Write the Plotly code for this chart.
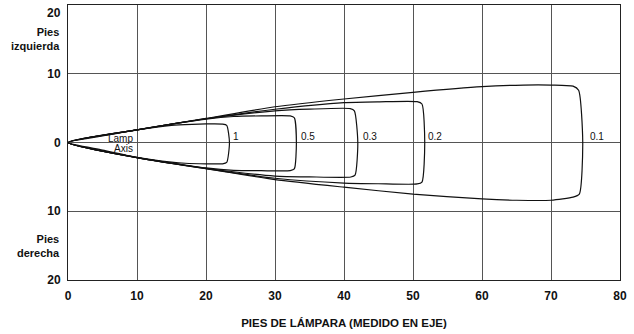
import plotly.graph_objects as go

# Isolux contour outlines (feet along lamp axis, feet left(+)/right(-))
levels = ["1", "0.5", "0.3", "0.2", "0.1"]

c1_x = [0, 5, 10, 15, 18, 20, 22.4, 23.0, 23.4, 23.0, 22.4, 20, 17, 15, 10, 5, 0]
c1_y = [0, 0.95, 1.84, 2.5, 2.65, 2.7, 2.68, 2.5, 0, -2.9, -3.1, -3.1, -3.02, -2.85, -2.15, -1.1, 0]

c05_x = [0, 10, 20, 24, 28, 32.2, 32.8, 33.1, 32.8, 32.2, 28, 24, 20, 10, 0]
c05_y = [0, 1.84, 3.4, 3.78, 3.87, 3.87, 3.6, 0, -3.85, -4.1, -4.1, -4.05, -3.7, -2.2, 0]

c03_x = [0, 10, 20, 30, 35, 40.9, 41.5, 42.0, 41.6, 41.0, 35, 30, 20, 10, 0]
c03_y = [0, 1.84, 3.45, 4.6, 4.85, 4.93, 4.6, 0, -4.75, -5.02, -5.0, -4.88, -3.75, -2.2, 0]

c02_x = [0, 10, 20, 30, 40, 45, 50.6, 51.3, 51.7, 51.3, 50.6, 45, 40, 30, 20, 10, 0]
c02_y = [0, 1.84, 3.45, 4.84, 5.8, 5.92, 5.94, 5.6, 0, -5.75, -6.03, -6.0, -5.9, -5.2, -3.8, -2.2, 0]

c01_x = [0, 10, 20, 30, 40, 50, 60, 66, 70, 73.2, 74.0, 74.6, 74.1, 73.2, 70, 65, 60, 50, 40, 30, 20, 10, 0]
c01_y = [0, 1.84, 3.5, 5.2, 6.33, 7.3, 8.12, 8.36, 8.36, 8.2, 7.6, 0, -7.5, -7.95, -8.4, -8.4, -8.2, -7.5, -6.5, -5.4, -3.8, -2.2, 0]

contours_x = [c1_x, c05_x, c03_x, c02_x, c01_x]
contours_y = [c1_y, c05_y, c03_y, c02_y, c01_y]

label_x = [23.6, 33.5, 42.4, 51.9, 75.3]
label_y = [0, 0, 0, 0, 0]

y_tickvals = [-20, -10, 0, 10]
y_ticktext = ["20", "10", "0", "10"]
y_top_label = "20"
x_tickvals = [0, 10, 20, 30, 40, 50, 60, 70, 80]

fig = go.Figure()
for cx, cy, lev in zip(contours_x, contours_y, levels):
    fig.add_trace(go.Scatter(x=cx, y=cy, mode="lines", name=lev,
                             line=dict(color="#111111", width=1.2, shape="spline", smoothing=0.6),
                             hoverinfo="skip", showlegend=False))

for lx, ly, lev in zip(label_x, label_y, levels):
    fig.add_annotation(x=lx, y=ly, text=lev, showarrow=False, xanchor="left", yanchor="bottom",
                       yshift=-1,
                       font=dict(size=10, color="#111111", family="Liberation Sans, Arial, sans-serif"))

fig.add_annotation(x=9.7, y=0.6, text="Lamp", showarrow=False, xanchor="right", yanchor="middle",
                   font=dict(size=10, color="#111111", family="Liberation Sans, Arial, sans-serif"))
fig.add_annotation(x=9.7, y=-0.9, text="Axis", showarrow=False, xanchor="right", yanchor="middle",
                   font=dict(size=10, color="#111111", family="Liberation Sans, Arial, sans-serif"))

side_font = dict(size=11, color="#111111", family="Liberation Sans Narrow, Arial Narrow, Liberation Sans, Arial", weight="bold")
title_font = dict(size=11.5, color="#111111", family="Liberation Sans Narrow, Arial Narrow, Liberation Sans, Arial", weight="bold")
fig.add_annotation(x=0, xref="paper", y=15, text="Pies<br>izquierda", showarrow=False, xanchor="right",
                   yanchor="middle", align="right", xshift=-6, font=side_font)
fig.add_annotation(x=0, xref="paper", y=-15, text="Pies<br>derecha", showarrow=False, xanchor="right",
                   yanchor="middle", align="right", xshift=-6, font=side_font)

tick_font = dict(size=12, color="#111111", family="Liberation Sans Narrow, Arial Narrow, Liberation Sans, Arial", weight="bold")
fig.add_annotation(x=0, xref="paper", y=20, text=y_top_label, showarrow=False, xanchor="right",
                   yanchor="top", xshift=-5, yshift=1, font=tick_font)

fig.update_xaxes(range=[0, 80], tickvals=x_tickvals, showgrid=True, gridcolor="#555555", gridwidth=1,
                 showline=True, linecolor="#222222", linewidth=1, mirror=True, zeroline=False,
                 ticks="", tickfont=tick_font, ticklabelstandoff=5, automargin=False,
                 title=dict(text="PIES DE LÁMPARA (MEDIDO EN EJE)", font=title_font, standoff=16))
fig.update_yaxes(range=[-20, 20], tickvals=y_tickvals, ticktext=y_ticktext, showgrid=True,
                 gridcolor="#555555", gridwidth=1, showline=True, linecolor="#222222", linewidth=1,
                 mirror=True, zeroline=False, ticks="", tickfont=tick_font, ticklabelstandoff=4,
                 automargin=False)

fig.update_layout(width=634, height=334, margin=dict(l=68, r=14, t=5, b=54),
                  plot_bgcolor="white", paper_bgcolor="white")

fig.write_html("out.html", config={"displayModeBar": False},
               post_script="document.body.style.margin='0';")
